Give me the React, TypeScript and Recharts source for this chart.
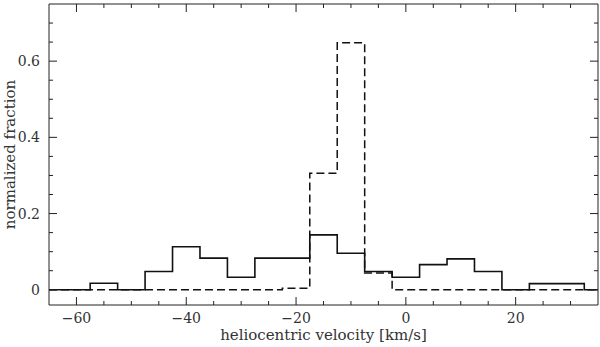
import { LineChart, Line, XAxis, YAxis } from 'recharts';

// bin centres in km/s (5 km/s bins)
const velocity = [-65, -60, -55, -50, -45, -40, -35, -30, -25, -20, -15, -10, -5, 0, 5, 10, 15, 20, 25, 30, 35];
const solidFrac = [0, 0, 0.017, 0, 0.048, 0.113, 0.083, 0.033, 0.083, 0.083, 0.144, 0.096, 0.048, 0.033, 0.066, 0.081, 0.048, 0, 0.016, 0.016, 0];
const dashedFrac = [0, 0, 0, 0, 0, 0, 0, 0, 0, 0.004, 0.306, 0.648, 0.044, 0, 0, 0, 0, 0, 0, 0, 0];

const xTicks = [-60, -55, -50, -45, -40, -35, -30, -25, -20, -15, -10, -5, 0, 5, 10, 15, 20, 25, 30];
const yTicks = [0, 0.05, 0.1, 0.15, 0.2, 0.25, 0.3, 0.35, 0.4, 0.45, 0.5, 0.55, 0.6, 0.65, 0.7];

const data = velocity.map((v, i) => ({ v, solid: solidFrac[i], dashed: dashedFrac[i] }));

const INK = '#222';
const TXT = '#333';
const FONT = '"DejaVu Serif", "Liberation Serif", serif';

const fmtX = (v: number) => (v < 0 ? '\u2212' + Math.abs(v) : String(v));
const isMajorX = (v: number) => v % 20 === 0;
const isMajorY = (v: number) => Math.round(v * 100) % 20 === 0;

const BottomTick = (props: any) => {
  const { x, y, payload } = props;
  const major = isMajorX(payload.value);
  return (
    <g>
      <line x1={x} x2={x} y1={y} y2={y - (major ? 8 : 4)} stroke={INK} />
      {major && (
        <text x={x} y={y + 18} textAnchor="middle" fontSize={14} fontFamily={FONT} fill={TXT}>
          {fmtX(payload.value)}
        </text>
      )}
    </g>
  );
};

const TopTick = (props: any) => {
  const { x, y, payload } = props;
  const major = isMajorX(payload.value);
  return <line x1={x} x2={x} y1={y} y2={y + (major ? 8 : 4)} stroke={INK} />;
};

const LeftTick = (props: any) => {
  const { x, y, payload } = props;
  const major = isMajorY(payload.value);
  return (
    <g>
      <line x1={x} x2={x + (major ? 8 : 4)} y1={y} y2={y} stroke={INK} />
      {major && (
        <text x={x - 9} y={y + 5} textAnchor="end" fontSize={14} fontFamily={FONT} fill={TXT}>
          {String(payload.value)}
        </text>
      )}
    </g>
  );
};

const RightTick = (props: any) => {
  const { x, y, payload } = props;
  const major = isMajorY(payload.value);
  return <line x1={x} x2={x - (major ? 8 : 4)} y1={y} y2={y} stroke={INK} />;
};

export default function App() {
  return (
    <div style={{ position: 'absolute', left: 0, top: 0, width: 600, height: 347, background: '#fff' }}>
      <LineChart width={600} height={347} data={data} margin={{ top: 3, right: 1, left: 0, bottom: 0 }}>
        <XAxis
          xAxisId="b"
          dataKey="v"
          type="number"
          domain={[-65, 35]}
          ticks={xTicks}
          interval={0}
          height={42}
          tickSize={0}
          tickMargin={0}
          tickLine={false}
          axisLine={{ stroke: INK }}
          tick={<BottomTick />}
          label={(p: any) => (
            <text
              x={p.viewBox.x + p.viewBox.width / 2}
              y={p.viewBox.y + 35}
              textAnchor="middle"
              fontSize={15}
              fontFamily={FONT}
              fill={TXT}
            >
              heliocentric velocity [km/s]
            </text>
          )}
        />
        <XAxis
          xAxisId="t"
          orientation="top"
          dataKey="v"
          type="number"
          domain={[-65, 35]}
          ticks={xTicks}
          interval={0}
          height={1}
          tickSize={0}
          tickMargin={0}
          tickLine={false}
          axisLine={{ stroke: INK }}
          tick={<TopTick />}
        />
        <YAxis
          yAxisId="l"
          type="number"
          domain={[-0.04, 0.75]}
          allowDataOverflow
          ticks={yTicks}
          interval={0}
          width={49}
          tickSize={0}
          tickMargin={0}
          tickLine={false}
          axisLine={{ stroke: INK }}
          tick={<LeftTick />}
          label={(p: any) => {
            const cx = 10;
            const cy = p.viewBox.y + p.viewBox.height / 2;
            return (
              <text
                x={cx}
                y={cy}
                transform={`rotate(-90, ${cx}, ${cy})`}
                textAnchor="middle"
                dominantBaseline="central"
                fontSize={15}
                fontFamily={FONT}
                fill={TXT}
              >
                normalized fraction
              </text>
            );
          }}
        />
        <YAxis
          yAxisId="r"
          orientation="right"
          type="number"
          domain={[-0.04, 0.75]}
          allowDataOverflow
          ticks={yTicks}
          interval={0}
          width={1}
          tickSize={0}
          tickMargin={0}
          tickLine={false}
          axisLine={{ stroke: INK }}
          tick={<RightTick />}
        />
        <Line
          xAxisId="t"
          yAxisId="r"
          dataKey="solid"
          stroke="none"
          dot={false}
          activeDot={false}
          isAnimationActive={false}
        />
        <Line
          xAxisId="b"
          yAxisId="l"
          type="step"
          dataKey="dashed"
          stroke="#111"
          strokeWidth={1.5}
          strokeDasharray="8 4"
          dot={false}
          activeDot={false}
          isAnimationActive={false}
        />
        <Line
          xAxisId="b"
          yAxisId="l"
          type="step"
          dataKey="solid"
          stroke="#111"
          strokeWidth={1.6}
          dot={false}
          activeDot={false}
          isAnimationActive={false}
        />
      </LineChart>
    </div>
  );
}
